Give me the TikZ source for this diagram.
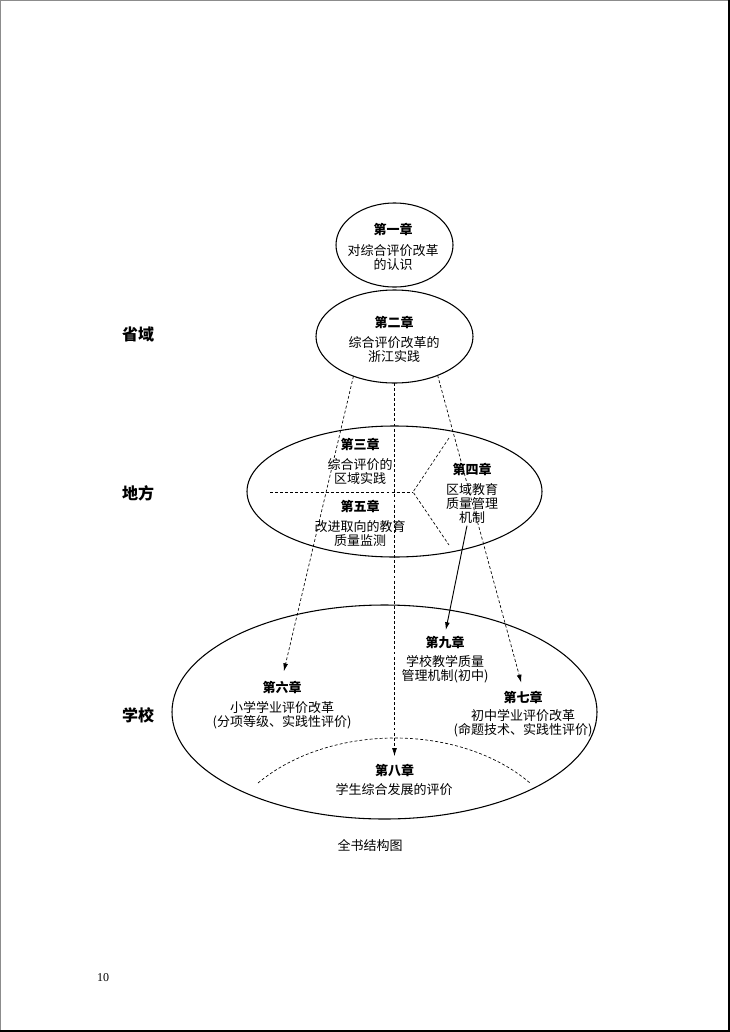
\documentclass[tikz,border=0pt]{standalone}
\usepackage{fontspec}
\setmainfont{Liberation Serif}
\newfontfamily\cjk{Noto Sans CJK SC}
\usetikzlibrary{arrows.meta,positioning,shapes.geometric}
\tikzset{
  zone/.style={draw, ellipse, line width=0.8pt, inner sep=0pt, outer sep=0pt},
  chap/.style={font=\cjk\bfseries\fontsize{9.75}{10.5}\selectfont, inner sep=1pt},
  txt/.style={font=\cjk\fontsize{9.75}{10.5}\selectfont, align=center, inner sep=1pt},
  lvl/.style={font=\cjk\bfseries\fontsize{12}{14}\selectfont, inner sep=1pt},
  dsh/.style={dash pattern=on 2.2pt off 1.6pt, line width=0.5pt},
  ar/.style={-{Latex[length=6pt,width=3.6pt]}},
}

\begin{document}
\begin{tikzpicture}[x=0.75pt,y=-0.75pt]
  \useasboundingbox (0,0) rectangle (730,1032);
  % page edges
  \draw[black!45, line width=1pt] (0.5,1032) -- (0.5,0.5) -- (730,0.5);
  \draw[line width=1.5pt] (0,1031) -- (729,1031) -- (729,0);

  % levels
  \node[lvl] (prov) at (138,334) {省域};
  \node[lvl] (local) at (138,493) {地方};
  \node[lvl] (school) at (138,715) {学校};

  % zones
  \node[zone, minimum width=87.75pt, minimum height=63pt] (e1) at (394.5,245) {};
  \node[zone, minimum width=117.75pt, minimum height=69.75pt] (e2) at (394.5,336.5) {};
  \node[zone, minimum width=221.25pt, minimum height=98.25pt] (e3) at (394.5,491.5) {};
  \node[zone, minimum width=318.75pt, minimum height=160.5pt] (e4) at (384.5,712) {};

  % chapters
  \node[chap] (h1) at (393,229) {第一章};
  \node[txt] (b1) at (393,258) {对综合评价改革\\的认识};
  \node[chap] (h2) at (394,322) {第二章};
  \node[txt] (b2) at (394,349.5) {综合评价改革的\\浙江实践};

  \node[chap] (h3) at (360,444) {第三章};
  \node[txt] (b3) at (360,471.5) {综合评价的\\区域实践};
  \node[chap] (h5) at (360,506) {第五章};
  \node[txt] (b5) at (360,533.5) {改进取向的教育\\质量监测};
  \node[chap] (h4) at (472,469) {第四章};
  \node[txt] (b4) at (472,504) {区域教育\\质量管理\\机制};

  \node[chap] (h9) at (445,642) {第九章};
  \node[txt] (b9) at (445,669) {学校教学质量\\管理机制(初中)};
  \node[chap] (h6) at (282,687) {第六章};
  \node[txt] (b6) at (282,715) {小学学业评价改革\\(分项等级、实践性评价)};
  \node[chap] (h7) at (523,697) {第七章};
  \node[txt] (b7) at (523,723.5) {初中学业评价改革\\(命题技术、实践性评价)};
  \node[chap] (h8) at (394.5,770) {第八章};
  \node[txt] (b8) at (394,790) {学生综合发展的评价};

  % dividers
  \coordinate (fork) at (413,492);
  \draw[dsh] (270,492) -- (fork);
  \draw[dsh] (449,438) -- (fork) -- (449,545);
  \draw[dsh] (258,783) .. controls (330,723) and (460,723) .. (530,783);

  % links
  \draw[dsh, ar, shorten >=6pt] (e2.224) -- (h6.north);
  \draw[dsh, ar, shorten >=4.5pt] (e2.south) -- (h8.north);
  \draw[dsh, ar, shorten >=5pt] (e2.318) -- (h7.north);
  \draw[ar, line width=0.7pt, shorten >=3pt] ([xshift=-3.75pt]b4.south) -- (h9.north);

  \node[txt] (cap) at (370,845) {全书结构图};
  \node[font=\fontsize{9}{10}\selectfont] (page) at (103,978) {10};
\end{tikzpicture}
\end{document}
